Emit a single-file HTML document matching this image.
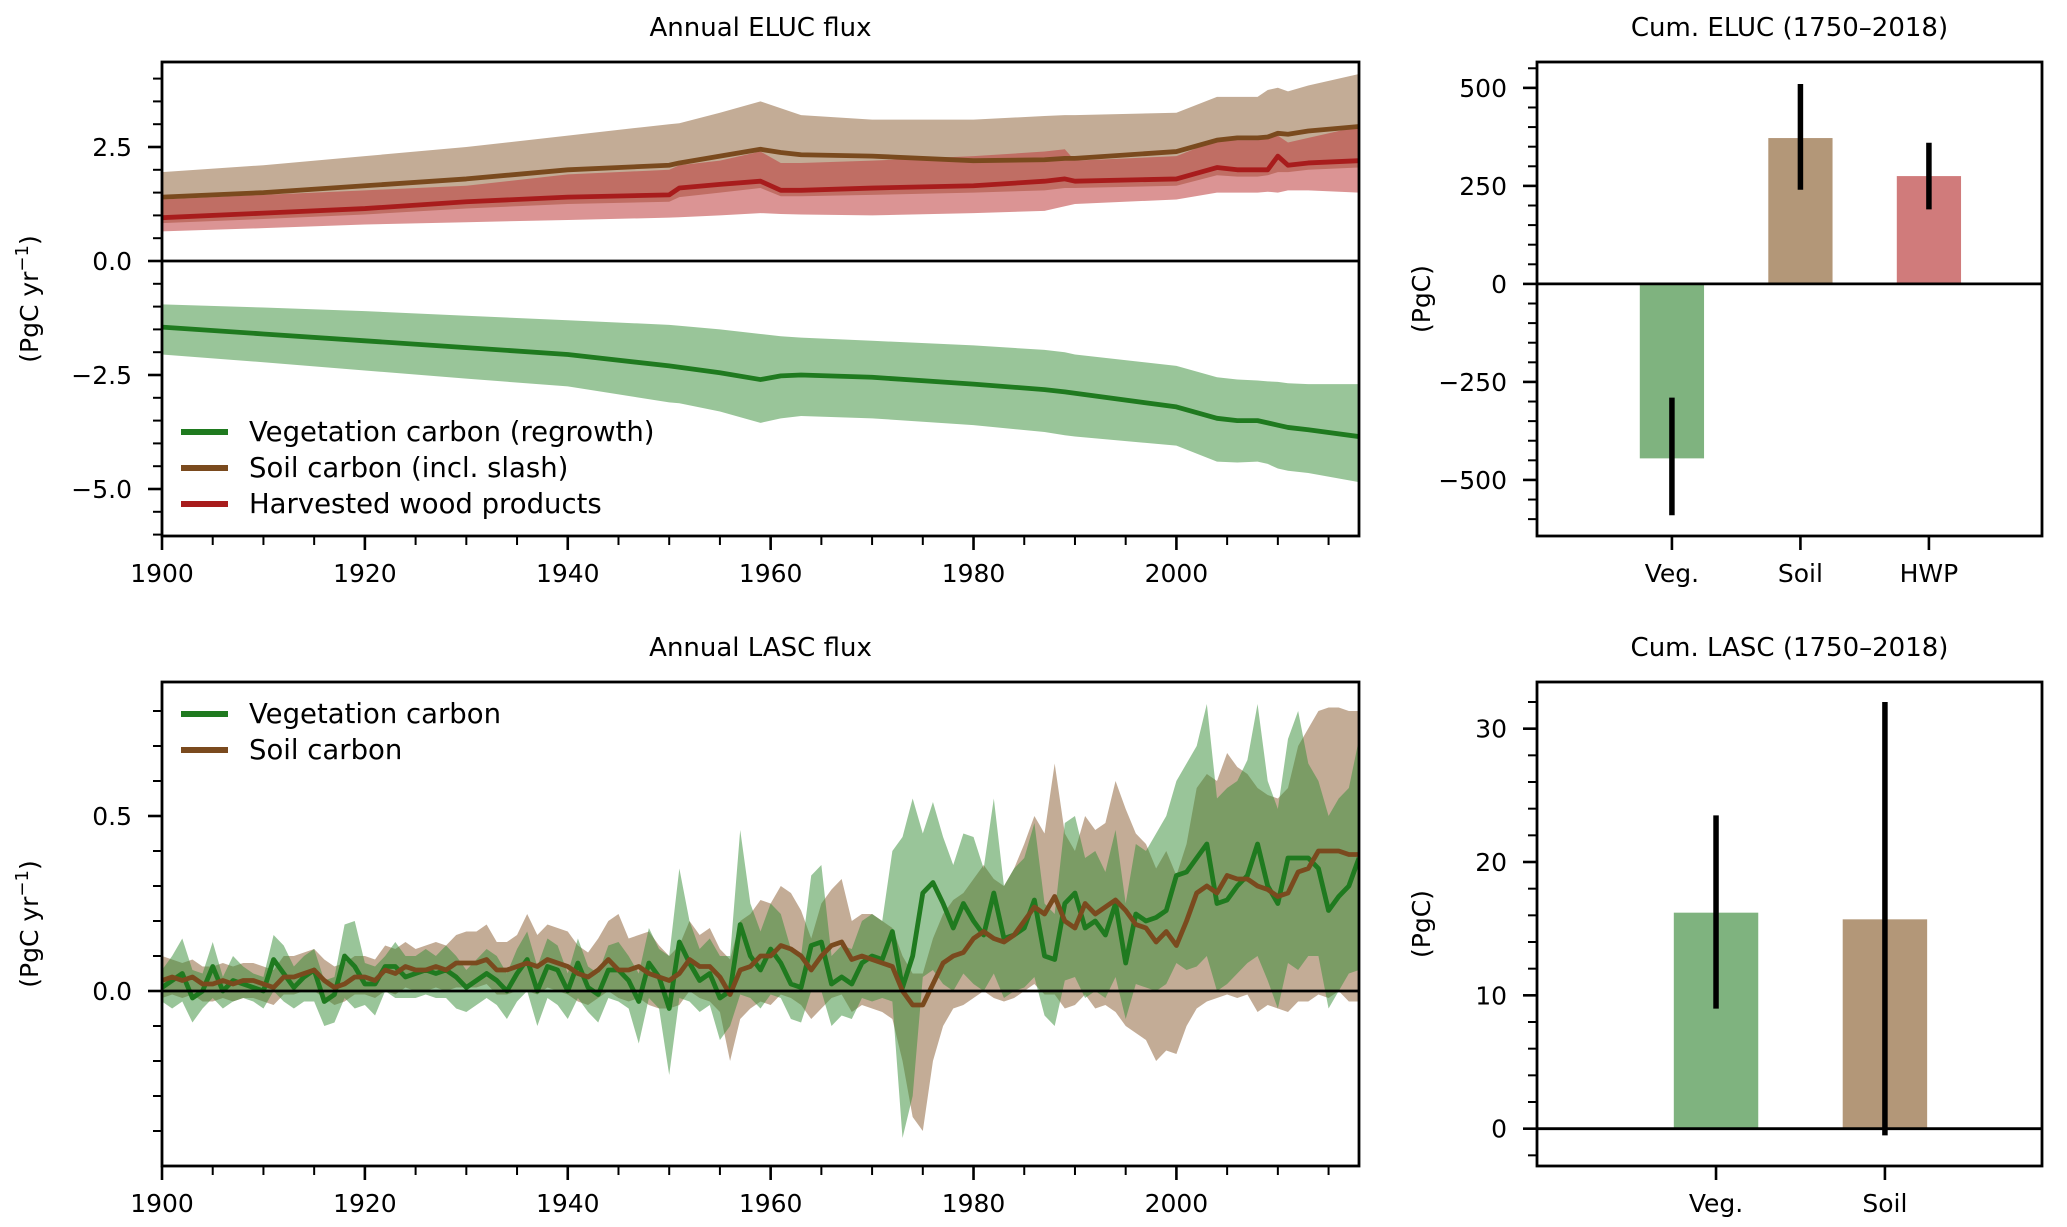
<!DOCTYPE html>
<html><head><meta charset="utf-8"><style>
html,body{margin:0;padding:0;background:#fff;}
svg{display:block;font-family:"DejaVu Sans","Liberation Sans",sans-serif;}
</style></head><body>
<svg id="fig" width="2067" height="1227" viewBox="0 0 2067 1227" xmlns="http://www.w3.org/2000/svg"></svg>
<script>
// ---------- data ----------
const eYears=[1900,1910,1920,1930,1940,1950,1951,1955,1959,1961,1963,1970,1980,1987,1989,1990,2000,2004,2006,2008,2009,2010,2011,2013,2018];
const eVegMean=[-1.45,-1.6,-1.75,-1.9,-2.05,-2.3,-2.33,-2.45,-2.6,-2.52,-2.5,-2.55,-2.7,-2.82,-2.87,-2.9,-3.2,-3.45,-3.5,-3.5,-3.55,-3.6,-3.65,-3.7,-3.85];
const eVegHi=[-0.95,-1.02,-1.1,-1.2,-1.3,-1.4,-1.42,-1.5,-1.6,-1.65,-1.68,-1.75,-1.85,-1.95,-2.0,-2.05,-2.3,-2.55,-2.6,-2.62,-2.64,-2.65,-2.68,-2.7,-2.7];
const eVegLo=[-2.05,-2.22,-2.4,-2.58,-2.75,-3.1,-3.12,-3.3,-3.55,-3.45,-3.4,-3.45,-3.6,-3.75,-3.82,-3.85,-4.05,-4.4,-4.42,-4.4,-4.45,-4.55,-4.6,-4.65,-4.85];
const eSoilMean=[1.4,1.5,1.65,1.8,2.0,2.1,2.15,2.3,2.45,2.38,2.33,2.3,2.2,2.22,2.25,2.25,2.4,2.65,2.7,2.7,2.72,2.8,2.78,2.85,2.95];
const eSoilHi=[1.95,2.1,2.3,2.5,2.75,3.0,3.02,3.25,3.5,3.35,3.2,3.1,3.1,3.18,3.2,3.2,3.25,3.6,3.6,3.6,3.75,3.8,3.72,3.85,4.1];
const eSoilLo=[0.83,0.92,1.02,1.15,1.25,1.3,1.4,1.5,1.6,1.42,1.42,1.45,1.5,1.55,1.6,1.6,1.65,1.88,1.85,1.85,1.88,1.95,1.95,2.0,2.05];
const eHwpMean=[0.95,1.05,1.15,1.3,1.4,1.45,1.6,1.68,1.75,1.55,1.55,1.6,1.65,1.75,1.8,1.75,1.8,2.05,2.0,2.0,2.0,2.3,2.1,2.15,2.2];
const eHwpHi=[1.35,1.45,1.55,1.65,1.9,2.0,2.1,2.2,2.4,2.15,2.15,2.2,2.3,2.4,2.45,2.2,2.3,2.65,2.65,2.65,2.7,2.75,2.6,2.7,2.95];
const eHwpLo=[0.65,0.72,0.8,0.85,0.9,0.95,0.96,1.0,1.05,1.03,1.02,1.0,1.05,1.1,1.2,1.25,1.35,1.5,1.5,1.5,1.52,1.5,1.55,1.55,1.5];

const lVegMean=[0.01,0.03,0.05,-0.02,0.0,0.07,0.0,0.03,0.02,0.01, 0.0,0.09,0.05,0.01,0.04,0.06,-0.03,-0.01,0.1,0.07, 0.02,0.02,0.07,0.07,0.04,0.05,0.06,0.05,0.06,0.04, 0.01,0.03,0.05,0.03,0.0,0.05,0.09,0.0,0.07,0.06, 0.0,0.08,0.01,-0.01,0.06,0.06,0.03,-0.03,0.08,0.04, -0.05,0.14,0.08,0.03,0.05,-0.02,0.0,0.19,0.1,0.06, 0.12,0.08,0.02,0.01,0.13,0.14,0.02,0.04,0.02,0.08, 0.1,0.09,0.17,0.01,0.1,0.28,0.31,0.25,0.18,0.25, 0.2,0.16,0.28,0.15,0.16,0.18,0.26,0.1,0.09,0.25, 0.28,0.18,0.2,0.16,0.25,0.08,0.22,0.2,0.21,0.23, 0.33,0.34,0.38,0.42,0.25,0.26,0.3,0.33,0.42,0.3, 0.25,0.38,0.38,0.38,0.35,0.23,0.27,0.3,0.38];
const lVegHi=[0.06,0.1,0.15,0.06,0.05,0.14,0.04,0.1,0.07,0.05, 0.04,0.16,0.13,0.07,0.1,0.12,0.03,0.04,0.19,0.2, 0.08,0.07,0.1,0.14,0.1,0.1,0.12,0.1,0.13,0.1, 0.06,0.09,0.12,0.1,0.05,0.12,0.17,0.07,0.15,0.13, 0.05,0.15,0.07,0.05,0.13,0.14,0.1,0.05,0.18,0.12, 0.1,0.35,0.2,0.12,0.15,0.1,0.1,0.46,0.25,0.17, 0.25,0.22,0.12,0.1,0.33,0.36,0.1,0.13,0.12,0.2, 0.22,0.2,0.4,0.44,0.55,0.45,0.54,0.44,0.36,0.45, 0.44,0.35,0.55,0.3,0.35,0.38,0.48,0.25,0.22,0.48, 0.5,0.38,0.4,0.34,0.46,0.25,0.42,0.4,0.45,0.5, 0.6,0.65,0.7,0.82,0.55,0.58,0.6,0.66,0.82,0.6, 0.52,0.72,0.8,0.65,0.6,0.5,0.55,0.58,0.72];
const lVegLo=[-0.03,-0.05,-0.03,-0.09,-0.05,-0.02,-0.05,-0.03,-0.02,-0.03, -0.05,0.0,-0.03,-0.05,-0.03,-0.03,-0.1,-0.09,-0.02,-0.05, -0.04,-0.07,0.0,-0.02,-0.02,-0.02,-0.01,-0.02,-0.02,-0.05, -0.06,-0.04,-0.02,-0.04,-0.08,-0.03,0.0,-0.1,-0.02,-0.04, -0.08,-0.02,-0.06,-0.09,-0.02,-0.03,-0.05,-0.15,-0.02,-0.05, -0.24,-0.02,-0.03,-0.06,-0.04,-0.14,-0.1,-0.01,-0.02,-0.05, -0.01,-0.02,-0.08,-0.09,0.0,0.0,-0.1,-0.07,-0.08,-0.02, -0.03,-0.02,-0.03,-0.42,-0.3,0.04,0.06,0.02,0.0,0.05, 0.02,0.0,0.05,-0.02,0.0,0.01,0.04,-0.07,-0.1,0.03, 0.04,-0.02,0.0,-0.02,0.04,-0.08,0.02,0.01,0.0,0.02, 0.08,0.06,0.07,0.1,0.0,0.02,0.05,0.08,0.1,0.03, -0.05,0.08,0.06,0.1,0.1,-0.05,0.0,0.05,0.06];
const lSoilMean=[0.03,0.04,0.03,0.04,0.02,0.02,0.03,0.02,0.03,0.03, 0.02,0.01,0.04,0.04,0.05,0.06,0.03,0.01,0.02,0.04, 0.04,0.03,0.06,0.05,0.07,0.06,0.06,0.07,0.06,0.08, 0.08,0.08,0.09,0.06,0.06,0.07,0.08,0.07,0.09,0.08, 0.07,0.05,0.04,0.06,0.09,0.06,0.06,0.07,0.05,0.04, 0.03,0.05,0.09,0.07,0.07,0.04,-0.01,0.06,0.07,0.1, 0.1,0.13,0.12,0.1,0.06,0.1,0.13,0.14,0.09,0.1, 0.09,0.08,0.07,0.0,-0.04,-0.04,0.02,0.08,0.1,0.11, 0.15,0.17,0.15,0.14,0.16,0.2,0.24,0.22,0.27,0.2, 0.18,0.25,0.22,0.24,0.26,0.23,0.19,0.18,0.14,0.17, 0.13,0.2,0.28,0.3,0.28,0.33,0.32,0.32,0.3,0.29, 0.27,0.28,0.34,0.35,0.4,0.4,0.4,0.39,0.39];
const lSoilHi=[0.1,0.09,0.08,0.09,0.07,0.07,0.08,0.07,0.08,0.08, 0.07,0.06,0.1,0.1,0.11,0.12,0.09,0.07,0.08,0.1, 0.1,0.09,0.13,0.12,0.14,0.12,0.13,0.14,0.13,0.16, 0.17,0.17,0.19,0.14,0.14,0.16,0.22,0.16,0.19,0.18, 0.17,0.13,0.11,0.15,0.2,0.22,0.15,0.16,0.17,0.13, 0.1,0.13,0.2,0.16,0.18,0.12,0.09,0.2,0.22,0.26, 0.25,0.3,0.28,0.23,0.15,0.25,0.29,0.32,0.2,0.22, 0.22,0.2,0.18,0.1,0.05,0.05,0.15,0.22,0.26,0.28, 0.32,0.36,0.32,0.3,0.35,0.42,0.5,0.45,0.65,0.45, 0.4,0.5,0.46,0.48,0.6,0.52,0.45,0.42,0.35,0.4, 0.33,0.42,0.58,0.62,0.6,0.68,0.64,0.62,0.58,0.56, 0.55,0.58,0.7,0.75,0.8,0.81,0.81,0.8,0.8];
const lSoilLo=[-0.02,-0.01,-0.02,-0.01,-0.03,-0.03,-0.02,-0.03,-0.02,-0.02, -0.03,-0.04,-0.01,-0.01,0.0,0.0,-0.02,-0.04,-0.03,-0.01, -0.01,-0.02,0.0,-0.01,0.01,0.0,0.0,0.01,0.0,0.01, 0.01,0.01,0.02,-0.01,-0.01,0.0,0.0,-0.01,0.01,0.0, -0.01,-0.03,-0.04,-0.02,0.0,-0.02,-0.03,-0.02,-0.04,-0.05, -0.05,-0.04,0.0,-0.02,-0.03,-0.06,-0.2,-0.08,-0.05,-0.03, -0.04,-0.01,-0.02,-0.04,-0.08,-0.05,-0.02,-0.01,-0.06,-0.04, -0.05,-0.06,-0.08,-0.2,-0.36,-0.4,-0.2,-0.1,-0.05,-0.04, -0.02,0.0,-0.02,-0.03,-0.02,0.0,0.02,-0.01,-0.01,-0.05, -0.04,-0.01,-0.05,-0.04,-0.06,-0.1,-0.12,-0.14,-0.2,-0.17, -0.18,-0.1,-0.05,-0.03,-0.02,-0.01,-0.02,-0.01,-0.06,-0.04, -0.05,-0.06,-0.03,-0.03,-0.01,-0.02,0.0,-0.03,-0.03];

const cElucCats=["Veg.","Soil","HWP"];
const cElucVals=[-445,372,275];
const cElucErrLo=[-590,240,190];
const cElucErrHi=[-290,510,360];
const cLascCats=["Veg.","Soil"];
const cLascVals=[16.2,15.7];
const cLascErrLo=[9,-0.5];
const cLascErrHi=[23.5,32];

// ---------- helpers ----------
const NS="http://www.w3.org/2000/svg";
const svg=document.getElementById('fig');
function mk(tag,attrs,parent){const e=document.createElementNS(NS,tag);for(const k in attrs)e.setAttribute(k,attrs[k]);(parent||svg).appendChild(e);return e;}
function lin(d0,d1,r0,r1){return v=>r0+(v-d0)/(d1-d0)*(r1-r0);}
const GREEN="#1f7a1f",BROWN="#7a4a1e",RED="#a81c1c";
const GFILL="rgba(52,140,52,0.5)",BFILL="rgba(135,90,45,0.5)",RFILL="rgba(190,60,60,0.55)";
const TICKF=25;

function axesFrame(g,L,R,T,B){
  const r=mk('rect',{x:L,y:T,width:R-L,height:B-T,fill:'none',stroke:'#000','stroke-width':2.8},g);
  
  
}
function yTicks(g,L,y,vals,labels,minors){
  minors.forEach(v=>{const t=mk('line',{x1:L-9,x2:L,y1:y(v),y2:y(v),stroke:'#000','stroke-width':2},g);
    });
  vals.forEach((v,i)=>{const t=mk('line',{x1:L-14,x2:L,y1:y(v),y2:y(v),stroke:'#000','stroke-width':2.6},g);
    
    const tx=mk('text',{x:L-30,y:y(v)+9,'text-anchor':'end','font-size':TICKF},g);tx.textContent=labels[i];
    });
}
function xTicks(g,B,x,vals,labels,minors){
  minors.forEach(v=>{const t=mk('line',{x1:x(v),x2:x(v),y1:B,y2:B+9,stroke:'#000','stroke-width':2},g);
    });
  vals.forEach((v,i)=>{const t=mk('line',{x1:x(v),x2:x(v),y1:B,y2:B+14,stroke:'#000','stroke-width':2.6},g);
    
    const tx=mk('text',{x:x(v),y:B+46,'text-anchor':'middle','font-size':TICKF},g);tx.textContent=labels[i];
    });
}
function title(g,cx,y,s){const t=mk('text',{x:cx,y:y,'text-anchor':'middle','font-size':26},g);t.textContent=s;
  }
function yLabel(g,x,cy,s){const t=mk('text',{x:x,y:cy,'text-anchor':'middle','font-size':25,transform:`rotate(-90 ${x} ${cy})`},g);
  t.innerHTML=s;}
function band(g,xs,lo,hi,x,y,fill,name){
  let d='M'+xs.map((v,i)=>x(v)+','+y(hi[i])).join(' L');
  for(let i=xs.length-1;i>=0;i--)d+=' L'+x(xs[i])+','+y(lo[i]);
  const p=mk('path',{d:d+'Z',fill:fill,stroke:'none'},g);
  
}
function line(g,xs,vs,x,y,col,name){
  const p=mk('path',{d:'M'+xs.map((v,i)=>x(v)+','+y(vs[i])).join(' L'),fill:'none',stroke:col,'stroke-width':4.8,'stroke-linejoin':'round'},g);
  
}
function legend(g,items,x0,y0,dy){
  items.forEach((it,i)=>{const yy=y0+i*dy;
    const l=mk('line',{x1:x0,x2:x0+47,y1:yy,y2:yy,stroke:it[1],'stroke-width':6},g);
    
    const t=mk('text',{x:x0+68,y:yy+9,'font-size':27.5},g);t.textContent=it[0];
    });
}
const clipDefs=mk('defs',{});
function clip(id,L,R,T,B){const c=mk('clipPath',{id:id},clipDefs);mk('rect',{x:L,y:T,width:R-L,height:B-T},c);}
const SUP="(PgC yr<tspan dy='-10' font-size='18'>\u22121</tspan><tspan dy='10'>)</tspan>";

// ---------- panel A: annual ELUC ----------
{
 const L=162,R=1359,T=62,B=536;
 const g=mk('g',{});
 const x=lin(1900,2018,L,R), y=lin(0,2.5,261,147);
 clip('cA',L,R,T,B);
 const d=mk('g',{'clip-path':'url(#cA)'},g);
 band(d,eYears,eSoilLo,eSoilHi,x,y,BFILL,'soil-band');
 band(d,eYears,eHwpLo,eHwpHi,x,y,RFILL,'hwp-band');
 band(d,eYears,eVegLo,eVegHi,x,y,GFILL,'veg-band');
 line(d,eYears,eSoilMean,x,y,BROWN,'soil-line');
 line(d,eYears,eHwpMean,x,y,RED,'hwp-line');
 line(d,eYears,eVegMean,x,y,GREEN,'veg-line');
 mk('line',{x1:L,x2:R,y1:y(0),y2:y(0),stroke:'#000','stroke-width':2.8},g);
 axesFrame(g,L,R,T,B);
 const mn=[];for(let v=-6;v<=4;v+=0.5)if(Math.abs(v/2.5-Math.round(v/2.5))>1e-6)mn.push(v);
 yTicks(g,L,y,[-5,-2.5,0,2.5],["\u22125.0","\u22122.5","0.0","2.5"],mn);
 const xm=[];for(let v=1905;v<=2015;v+=5)if(v%20)xm.push(v);
 xTicks(g,B,x,[1900,1920,1940,1960,1980,2000],["1900","1920","1940","1960","1980","2000"],xm);
 title(g,(L+R)/2,36,"Annual ELUC flux");
 yLabel(g,38,(T+B)/2,SUP);
 legend(g,[["Vegetation carbon (regrowth)",GREEN],["Soil carbon (incl. slash)",BROWN],["Harvested wood products",RED]],181,432,36);
}
// ---------- panel B: annual LASC ----------
{
 const L=162,R=1359,T=682,B=1166;
 const g=mk('g',{});
 const yrs=lVegMean.map((_,i)=>1900+i);
 const x=lin(1900,2018,L,R), y=lin(0,0.5,991,816);
 clip('cB',L,R,T,B);
 const d=mk('g',{'clip-path':'url(#cB)'},g);
 band(d,yrs,lSoilLo,lSoilHi,x,y,BFILL,'soil-band');
 band(d,yrs,lVegLo,lVegHi,x,y,GFILL,'veg-band');
 line(d,yrs,lVegMean,x,y,GREEN,'veg-line');
 line(d,yrs,lSoilMean,x,y,BROWN,'soil-line');
 mk('line',{x1:L,x2:R,y1:y(0),y2:y(0),stroke:'#000','stroke-width':2.8},g);
 axesFrame(g,L,R,T,B);
 const mn=[];for(let k=-4;k<=8;k++)if(k%5)mn.push(k/10);
 yTicks(g,L,y,[0,0.5],["0.0","0.5"],mn);
 const xm=[];for(let v=1905;v<=2015;v+=5)if(v%20)xm.push(v);
 xTicks(g,B,x,[1900,1920,1940,1960,1980,2000],["1900","1920","1940","1960","1980","2000"],xm);
 title(g,(L+R)/2,656,"Annual LASC flux");
 yLabel(g,38,(T+B)/2,SUP);
 legend(g,[["Vegetation carbon",GREEN],["Soil carbon",BROWN]],181,714,36);
}
// ---------- bar panels ----------
function barPanel(name,T,B,xl,yr,cats,vals,lo,hi,cols,yt,ylab,mstep,ttl,tY){
 const L=1537,R=2042;
 const g=mk('g',{});
 const x=lin(xl[0],xl[1],L,R), y=lin(yr[0],yr[1],B,T);
 const w=x(0.5)-x(0);
 cats.forEach((c,i)=>{
   const r=mk('rect',{x:x(i)-w/2,y:Math.min(y(0),y(vals[i])),width:w,height:Math.abs(y(vals[i])-y(0)),fill:cols[i]},g);
   
 });
 cats.forEach((c,i)=>{
   const e=mk('line',{x1:x(i),x2:x(i),y1:y(lo[i]),y2:y(hi[i]),stroke:'#000','stroke-width':5.5},g);
   
 });
 mk('line',{x1:L,x2:R,y1:y(0),y2:y(0),stroke:'#000','stroke-width':2.8},g);
 axesFrame(g,L,R,T,B);
 const mn=[];for(let v=Math.ceil(yr[0]/mstep)*mstep;v<=yr[1];v+=mstep)if(!yt.includes(v))mn.push(v);
 yTicks(g,L,y,yt,yt.map(v=>v<0?"\u2212"+(-v):String(v)),mn);
 xTicks(g,B,x,cats.map((_,i)=>i),cats,[]);
 title(g,(L+R)/2,tY,ttl);
 yLabel(g,1430,(T+B)/2,ylab);
}
barPanel('cum-eluc-panel',62,536,[-1.05,2.88],[-643,566],cElucCats,cElucVals,cElucErrLo,cElucErrHi,["#7fb37f","#b39778","#d07b7b"],[-500,-250,0,250,500],"(PgC)",50,"Cum. ELUC (1750\u20132018)",36);
barPanel('cum-lasc-panel',682,1166,[-1.06,1.93],[-2.8,33.5],cLascCats,cLascVals,cLascErrLo,cLascErrHi,["#7fb37f","#b39778"],[0,10,20,30],"(PgC)",2,"Cum. LASC (1750\u20132018)",656);
</script>
</body></html>
